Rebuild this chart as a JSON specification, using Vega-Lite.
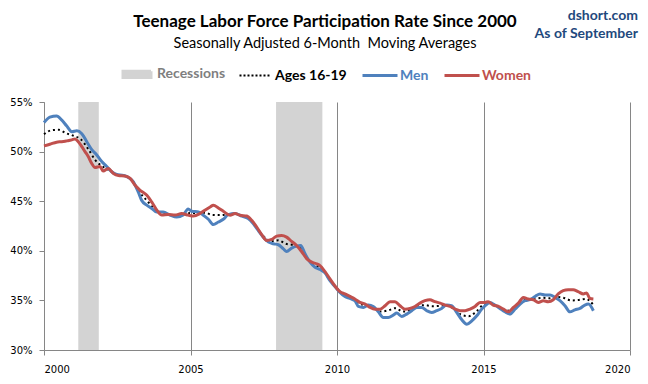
{
  "$schema": "https://vega.github.io/schema/vega-lite/v6.json",
  "width": 586,
  "height": 248,
  "autosize": {"type": "none"},
  "padding": {"left": 44, "top": 102, "right": 18, "bottom": 34},
  "background": "white",
  "title": {
    "text": "Teenage Labor Force Participation Rate Since 2000",
    "subtitle": "Seasonally Adjusted 6-Month\u00a0 Moving Averages",
    "anchor": "middle",
    "frame": "group",
    "dx": -12,
    "font": "Lato",
    "fontSize": 17,
    "fontWeight": "bold",
    "color": "#000000",
    "subtitleFont": "Lato",
    "subtitleFontSize": 14.5,
    "subtitleColor": "#000000",
    "subtitlePadding": 6,
    "offset": -43
  },
  "datasets": {
    "recessions": [
      {"start": 2001.17, "end": 2001.87},
      {"start": 2007.92, "end": 2009.5}
    ],
    "series": [
      {"year": 2000.00, "series": "Men", "rate": 52.93},
      {"year": 2000.20, "series": "Men", "rate": 53.48},
      {"year": 2000.43, "series": "Men", "rate": 53.60},
      {"year": 2000.60, "series": "Men", "rate": 53.20},
      {"year": 2000.77, "series": "Men", "rate": 52.60},
      {"year": 2000.95, "series": "Men", "rate": 52.00},
      {"year": 2001.12, "series": "Men", "rate": 52.10},
      {"year": 2001.29, "series": "Men", "rate": 51.80},
      {"year": 2001.46, "series": "Men", "rate": 51.00},
      {"year": 2001.63, "series": "Men", "rate": 50.20},
      {"year": 2001.80, "series": "Men", "rate": 49.66},
      {"year": 2001.97, "series": "Men", "rate": 49.00},
      {"year": 2002.14, "series": "Men", "rate": 48.50},
      {"year": 2002.31, "series": "Men", "rate": 47.97},
      {"year": 2002.48, "series": "Men", "rate": 47.70},
      {"year": 2002.71, "series": "Men", "rate": 47.60},
      {"year": 2002.88, "series": "Men", "rate": 47.40},
      {"year": 2003.05, "series": "Men", "rate": 46.95},
      {"year": 2003.22, "series": "Men", "rate": 45.90},
      {"year": 2003.33, "series": "Men", "rate": 45.10},
      {"year": 2003.51, "series": "Men", "rate": 44.60},
      {"year": 2003.68, "series": "Men", "rate": 44.26},
      {"year": 2003.85, "series": "Men", "rate": 43.90},
      {"year": 2004.07, "series": "Men", "rate": 43.90},
      {"year": 2004.30, "series": "Men", "rate": 43.60},
      {"year": 2004.53, "series": "Men", "rate": 43.40},
      {"year": 2004.75, "series": "Men", "rate": 43.60},
      {"year": 2004.92, "series": "Men", "rate": 44.22},
      {"year": 2005.04, "series": "Men", "rate": 43.99},
      {"year": 2005.27, "series": "Men", "rate": 43.92},
      {"year": 2005.44, "series": "Men", "rate": 43.58},
      {"year": 2005.61, "series": "Men", "rate": 43.18},
      {"year": 2005.78, "series": "Men", "rate": 42.64},
      {"year": 2005.95, "series": "Men", "rate": 42.90},
      {"year": 2006.12, "series": "Men", "rate": 43.18},
      {"year": 2006.29, "series": "Men", "rate": 43.65},
      {"year": 2006.52, "series": "Men", "rate": 43.75},
      {"year": 2006.75, "series": "Men", "rate": 43.50},
      {"year": 2006.97, "series": "Men", "rate": 43.25},
      {"year": 2007.14, "series": "Men", "rate": 42.74},
      {"year": 2007.31, "series": "Men", "rate": 42.06},
      {"year": 2007.48, "series": "Men", "rate": 41.38},
      {"year": 2007.66, "series": "Men", "rate": 40.88},
      {"year": 2007.83, "series": "Men", "rate": 40.71},
      {"year": 2008.00, "series": "Men", "rate": 40.61},
      {"year": 2008.17, "series": "Men", "rate": 40.20},
      {"year": 2008.28, "series": "Men", "rate": 39.93},
      {"year": 2008.45, "series": "Men", "rate": 40.27},
      {"year": 2008.62, "series": "Men", "rate": 40.47},
      {"year": 2008.76, "series": "Men", "rate": 40.54},
      {"year": 2008.91, "series": "Men", "rate": 39.70},
      {"year": 2009.08, "series": "Men", "rate": 38.85},
      {"year": 2009.25, "series": "Men", "rate": 38.34},
      {"year": 2009.42, "series": "Men", "rate": 38.11},
      {"year": 2009.59, "series": "Men", "rate": 37.78},
      {"year": 2009.76, "series": "Men", "rate": 36.99},
      {"year": 2009.93, "series": "Men", "rate": 36.40},
      {"year": 2010.10, "series": "Men", "rate": 35.81},
      {"year": 2010.27, "series": "Men", "rate": 35.40},
      {"year": 2010.44, "series": "Men", "rate": 35.20},
      {"year": 2010.61, "series": "Men", "rate": 34.97},
      {"year": 2010.73, "series": "Men", "rate": 34.39},
      {"year": 2010.90, "series": "Men", "rate": 34.29},
      {"year": 2011.07, "series": "Men", "rate": 34.53},
      {"year": 2011.24, "series": "Men", "rate": 34.39},
      {"year": 2011.41, "series": "Men", "rate": 33.85},
      {"year": 2011.58, "series": "Men", "rate": 33.28},
      {"year": 2011.75, "series": "Men", "rate": 33.28},
      {"year": 2011.92, "series": "Men", "rate": 33.52},
      {"year": 2012.04, "series": "Men", "rate": 33.72},
      {"year": 2012.21, "series": "Men", "rate": 33.38},
      {"year": 2012.38, "series": "Men", "rate": 33.62},
      {"year": 2012.55, "series": "Men", "rate": 33.96},
      {"year": 2012.72, "series": "Men", "rate": 34.29},
      {"year": 2012.89, "series": "Men", "rate": 34.29},
      {"year": 2013.06, "series": "Men", "rate": 33.96},
      {"year": 2013.23, "series": "Men", "rate": 33.78},
      {"year": 2013.40, "series": "Men", "rate": 33.96},
      {"year": 2013.57, "series": "Men", "rate": 34.19},
      {"year": 2013.74, "series": "Men", "rate": 34.53},
      {"year": 2013.91, "series": "Men", "rate": 34.46},
      {"year": 2014.09, "series": "Men", "rate": 33.78},
      {"year": 2014.26, "series": "Men", "rate": 33.04},
      {"year": 2014.43, "series": "Men", "rate": 32.60},
      {"year": 2014.60, "series": "Men", "rate": 32.94},
      {"year": 2014.77, "series": "Men", "rate": 33.45},
      {"year": 2014.94, "series": "Men", "rate": 34.13},
      {"year": 2015.05, "series": "Men", "rate": 34.45},
      {"year": 2015.22, "series": "Men", "rate": 34.80},
      {"year": 2015.39, "series": "Men", "rate": 34.53},
      {"year": 2015.56, "series": "Men", "rate": 34.19},
      {"year": 2015.73, "series": "Men", "rate": 33.85},
      {"year": 2015.90, "series": "Men", "rate": 33.62},
      {"year": 2016.08, "series": "Men", "rate": 34.13},
      {"year": 2016.25, "series": "Men", "rate": 34.63},
      {"year": 2016.42, "series": "Men", "rate": 34.97},
      {"year": 2016.59, "series": "Men", "rate": 35.07},
      {"year": 2016.76, "series": "Men", "rate": 35.40},
      {"year": 2016.93, "series": "Men", "rate": 35.65},
      {"year": 2017.10, "series": "Men", "rate": 35.55},
      {"year": 2017.27, "series": "Men", "rate": 35.55},
      {"year": 2017.44, "series": "Men", "rate": 35.30},
      {"year": 2017.61, "series": "Men", "rate": 34.97},
      {"year": 2017.78, "series": "Men", "rate": 34.46},
      {"year": 2017.95, "series": "Men", "rate": 33.85},
      {"year": 2018.12, "series": "Men", "rate": 34.05},
      {"year": 2018.29, "series": "Men", "rate": 34.19},
      {"year": 2018.46, "series": "Men", "rate": 34.53},
      {"year": 2018.58, "series": "Men", "rate": 34.63},
      {"year": 2018.75, "series": "Men", "rate": 33.96},

      {"year": 2000.00, "series": "Women", "rate": 50.57},
      {"year": 2000.20, "series": "Women", "rate": 50.74},
      {"year": 2000.43, "series": "Women", "rate": 50.95},
      {"year": 2000.60, "series": "Women", "rate": 51.00},
      {"year": 2000.77, "series": "Women", "rate": 51.08},
      {"year": 2000.95, "series": "Women", "rate": 51.18},
      {"year": 2001.06, "series": "Women", "rate": 51.28},
      {"year": 2001.17, "series": "Women", "rate": 51.00},
      {"year": 2001.29, "series": "Women", "rate": 50.50},
      {"year": 2001.40, "series": "Women", "rate": 50.00},
      {"year": 2001.51, "series": "Women", "rate": 49.50},
      {"year": 2001.63, "series": "Women", "rate": 48.80},
      {"year": 2001.74, "series": "Women", "rate": 48.40},
      {"year": 2001.91, "series": "Women", "rate": 48.50},
      {"year": 2002.02, "series": "Women", "rate": 48.04},
      {"year": 2002.19, "series": "Women", "rate": 48.30},
      {"year": 2002.37, "series": "Women", "rate": 47.80},
      {"year": 2002.54, "series": "Women", "rate": 47.60},
      {"year": 2002.76, "series": "Women", "rate": 47.55},
      {"year": 2002.94, "series": "Women", "rate": 47.30},
      {"year": 2003.11, "series": "Women", "rate": 46.60},
      {"year": 2003.28, "series": "Women", "rate": 46.10},
      {"year": 2003.51, "series": "Women", "rate": 45.60},
      {"year": 2003.68, "series": "Women", "rate": 44.90},
      {"year": 2003.85, "series": "Women", "rate": 44.10},
      {"year": 2004.02, "series": "Women", "rate": 43.60},
      {"year": 2004.24, "series": "Women", "rate": 43.65},
      {"year": 2004.47, "series": "Women", "rate": 43.60},
      {"year": 2004.70, "series": "Women", "rate": 43.75},
      {"year": 2004.92, "series": "Women", "rate": 43.60},
      {"year": 2005.10, "series": "Women", "rate": 43.50},
      {"year": 2005.32, "series": "Women", "rate": 43.75},
      {"year": 2005.49, "series": "Women", "rate": 44.09},
      {"year": 2005.67, "series": "Women", "rate": 44.42},
      {"year": 2005.78, "series": "Women", "rate": 44.60},
      {"year": 2005.95, "series": "Women", "rate": 44.32},
      {"year": 2006.12, "series": "Women", "rate": 43.99},
      {"year": 2006.35, "series": "Women", "rate": 43.58},
      {"year": 2006.52, "series": "Women", "rate": 43.75},
      {"year": 2006.69, "series": "Women", "rate": 43.58},
      {"year": 2006.92, "series": "Women", "rate": 43.50},
      {"year": 2007.09, "series": "Women", "rate": 43.07},
      {"year": 2007.26, "series": "Women", "rate": 42.40},
      {"year": 2007.43, "series": "Women", "rate": 41.63},
      {"year": 2007.60, "series": "Women", "rate": 41.05},
      {"year": 2007.77, "series": "Women", "rate": 41.15},
      {"year": 2007.94, "series": "Women", "rate": 41.48},
      {"year": 2008.11, "series": "Women", "rate": 41.55},
      {"year": 2008.28, "series": "Women", "rate": 41.38},
      {"year": 2008.45, "series": "Women", "rate": 40.95},
      {"year": 2008.62, "series": "Women", "rate": 40.54},
      {"year": 2008.79, "series": "Women", "rate": 39.93},
      {"year": 2008.97, "series": "Women", "rate": 39.19},
      {"year": 2009.14, "series": "Women", "rate": 38.85},
      {"year": 2009.31, "series": "Women", "rate": 38.68},
      {"year": 2009.42, "series": "Women", "rate": 38.51},
      {"year": 2009.59, "series": "Women", "rate": 37.90},
      {"year": 2009.76, "series": "Women", "rate": 37.17},
      {"year": 2009.93, "series": "Women", "rate": 36.45},
      {"year": 2010.10, "series": "Women", "rate": 35.88},
      {"year": 2010.27, "series": "Women", "rate": 35.65},
      {"year": 2010.44, "series": "Women", "rate": 35.40},
      {"year": 2010.61, "series": "Women", "rate": 35.14},
      {"year": 2010.78, "series": "Women", "rate": 34.80},
      {"year": 2010.96, "series": "Women", "rate": 34.63},
      {"year": 2011.13, "series": "Women", "rate": 34.29},
      {"year": 2011.30, "series": "Women", "rate": 34.12},
      {"year": 2011.47, "series": "Women", "rate": 34.12},
      {"year": 2011.64, "series": "Women", "rate": 34.46},
      {"year": 2011.81, "series": "Women", "rate": 34.87},
      {"year": 2011.98, "series": "Women", "rate": 34.87},
      {"year": 2012.15, "series": "Women", "rate": 34.46},
      {"year": 2012.32, "series": "Women", "rate": 34.12},
      {"year": 2012.49, "series": "Women", "rate": 34.19},
      {"year": 2012.66, "series": "Women", "rate": 34.39},
      {"year": 2012.83, "series": "Women", "rate": 34.73},
      {"year": 2013.00, "series": "Women", "rate": 34.97},
      {"year": 2013.17, "series": "Women", "rate": 35.07},
      {"year": 2013.34, "series": "Women", "rate": 34.87},
      {"year": 2013.52, "series": "Women", "rate": 34.73},
      {"year": 2013.69, "series": "Women", "rate": 34.53},
      {"year": 2013.86, "series": "Women", "rate": 34.39},
      {"year": 2014.03, "series": "Women", "rate": 34.12},
      {"year": 2014.20, "series": "Women", "rate": 33.96},
      {"year": 2014.37, "series": "Women", "rate": 33.96},
      {"year": 2014.54, "series": "Women", "rate": 34.12},
      {"year": 2014.71, "series": "Women", "rate": 34.39},
      {"year": 2014.88, "series": "Women", "rate": 34.80},
      {"year": 2015.05, "series": "Women", "rate": 34.80},
      {"year": 2015.16, "series": "Women", "rate": 34.87},
      {"year": 2015.33, "series": "Women", "rate": 34.53},
      {"year": 2015.51, "series": "Women", "rate": 34.39},
      {"year": 2015.68, "series": "Women", "rate": 34.12},
      {"year": 2015.85, "series": "Women", "rate": 33.85},
      {"year": 2016.02, "series": "Women", "rate": 34.29},
      {"year": 2016.19, "series": "Women", "rate": 34.73},
      {"year": 2016.36, "series": "Women", "rate": 35.30},
      {"year": 2016.53, "series": "Women", "rate": 35.14},
      {"year": 2016.70, "series": "Women", "rate": 35.07},
      {"year": 2016.87, "series": "Women", "rate": 34.80},
      {"year": 2017.04, "series": "Women", "rate": 34.97},
      {"year": 2017.21, "series": "Women", "rate": 34.87},
      {"year": 2017.38, "series": "Women", "rate": 35.07},
      {"year": 2017.55, "series": "Women", "rate": 35.65},
      {"year": 2017.72, "series": "Women", "rate": 35.98},
      {"year": 2017.89, "series": "Women", "rate": 36.08},
      {"year": 2018.06, "series": "Women", "rate": 36.08},
      {"year": 2018.23, "series": "Women", "rate": 35.88},
      {"year": 2018.41, "series": "Women", "rate": 35.65},
      {"year": 2018.52, "series": "Women", "rate": 35.75},
      {"year": 2018.63, "series": "Women", "rate": 35.20},
      {"year": 2018.75, "series": "Women", "rate": 35.14},

      {"year": 2000.00, "series": "Ages 16-19", "rate": 51.75},
      {"year": 2000.25, "series": "Ages 16-19", "rate": 52.15},
      {"year": 2000.50, "series": "Ages 16-19", "rate": 52.20},
      {"year": 2000.75, "series": "Ages 16-19", "rate": 51.86},
      {"year": 2001.00, "series": "Ages 16-19", "rate": 51.60},
      {"year": 2001.25, "series": "Ages 16-19", "rate": 51.25},
      {"year": 2001.50, "series": "Ages 16-19", "rate": 50.30},
      {"year": 2001.75, "series": "Ages 16-19", "rate": 49.15},
      {"year": 2002.00, "series": "Ages 16-19", "rate": 48.50},
      {"year": 2002.25, "series": "Ages 16-19", "rate": 48.10},
      {"year": 2002.50, "series": "Ages 16-19", "rate": 47.65},
      {"year": 2002.75, "series": "Ages 16-19", "rate": 47.57},
      {"year": 2003.00, "series": "Ages 16-19", "rate": 47.10},
      {"year": 2003.25, "series": "Ages 16-19", "rate": 45.95},
      {"year": 2003.50, "series": "Ages 16-19", "rate": 45.10},
      {"year": 2003.75, "series": "Ages 16-19", "rate": 44.30},
      {"year": 2004.00, "series": "Ages 16-19", "rate": 43.78},
      {"year": 2004.25, "series": "Ages 16-19", "rate": 43.66},
      {"year": 2004.50, "series": "Ages 16-19", "rate": 43.50},
      {"year": 2004.75, "series": "Ages 16-19", "rate": 43.65},
      {"year": 2005.00, "series": "Ages 16-19", "rate": 43.80},
      {"year": 2005.25, "series": "Ages 16-19", "rate": 43.80},
      {"year": 2005.50, "series": "Ages 16-19", "rate": 43.83},
      {"year": 2005.75, "series": "Ages 16-19", "rate": 43.62},
      {"year": 2006.00, "series": "Ages 16-19", "rate": 43.60},
      {"year": 2006.25, "series": "Ages 16-19", "rate": 43.67},
      {"year": 2006.50, "series": "Ages 16-19", "rate": 43.74},
      {"year": 2006.75, "series": "Ages 16-19", "rate": 43.53},
      {"year": 2007.00, "series": "Ages 16-19", "rate": 43.26},
      {"year": 2007.25, "series": "Ages 16-19", "rate": 42.30},
      {"year": 2007.50, "series": "Ages 16-19", "rate": 41.44},
      {"year": 2007.75, "series": "Ages 16-19", "rate": 40.97},
      {"year": 2008.00, "series": "Ages 16-19", "rate": 41.06},
      {"year": 2008.25, "series": "Ages 16-19", "rate": 40.71},
      {"year": 2008.50, "series": "Ages 16-19", "rate": 40.58},
      {"year": 2008.75, "series": "Ages 16-19", "rate": 40.31},
      {"year": 2009.00, "series": "Ages 16-19", "rate": 39.19},
      {"year": 2009.25, "series": "Ages 16-19", "rate": 38.55},
      {"year": 2009.50, "series": "Ages 16-19", "rate": 38.08},
      {"year": 2009.75, "series": "Ages 16-19", "rate": 37.11},
      {"year": 2010.00, "series": "Ages 16-19", "rate": 36.20},
      {"year": 2010.25, "series": "Ages 16-19", "rate": 35.56},
      {"year": 2010.50, "series": "Ages 16-19", "rate": 35.21},
      {"year": 2010.75, "series": "Ages 16-19", "rate": 34.62},
      {"year": 2011.00, "series": "Ages 16-19", "rate": 34.55},
      {"year": 2011.25, "series": "Ages 16-19", "rate": 34.27},
      {"year": 2011.50, "series": "Ages 16-19", "rate": 33.87},
      {"year": 2011.75, "series": "Ages 16-19", "rate": 34.00},
      {"year": 2012.00, "series": "Ages 16-19", "rate": 34.22},
      {"year": 2012.25, "series": "Ages 16-19", "rate": 33.87},
      {"year": 2012.50, "series": "Ages 16-19", "rate": 34.03},
      {"year": 2012.75, "series": "Ages 16-19", "rate": 34.43},
      {"year": 2013.00, "series": "Ages 16-19", "rate": 34.52},
      {"year": 2013.25, "series": "Ages 16-19", "rate": 34.42},
      {"year": 2013.50, "series": "Ages 16-19", "rate": 34.45},
      {"year": 2013.75, "series": "Ages 16-19", "rate": 34.50},
      {"year": 2014.00, "series": "Ages 16-19", "rate": 34.12},
      {"year": 2014.25, "series": "Ages 16-19", "rate": 33.53},
      {"year": 2014.50, "series": "Ages 16-19", "rate": 33.41},
      {"year": 2014.75, "series": "Ages 16-19", "rate": 33.87},
      {"year": 2015.00, "series": "Ages 16-19", "rate": 34.57},
      {"year": 2015.25, "series": "Ages 16-19", "rate": 34.72},
      {"year": 2015.50, "series": "Ages 16-19", "rate": 34.32},
      {"year": 2015.75, "series": "Ages 16-19", "rate": 33.95},
      {"year": 2016.00, "series": "Ages 16-19", "rate": 34.07},
      {"year": 2016.25, "series": "Ages 16-19", "rate": 34.77},
      {"year": 2016.50, "series": "Ages 16-19", "rate": 35.11},
      {"year": 2016.75, "series": "Ages 16-19", "rate": 35.17},
      {"year": 2017.00, "series": "Ages 16-19", "rate": 35.26},
      {"year": 2017.25, "series": "Ages 16-19", "rate": 35.22},
      {"year": 2017.50, "series": "Ages 16-19", "rate": 35.35},
      {"year": 2017.75, "series": "Ages 16-19", "rate": 35.25},
      {"year": 2018.00, "series": "Ages 16-19", "rate": 34.99},
      {"year": 2018.25, "series": "Ages 16-19", "rate": 35.04},
      {"year": 2018.50, "series": "Ages 16-19", "rate": 35.15},
      {"year": 2018.75, "series": "Ages 16-19", "rate": 34.55}
    ]
  },
  "layer": [
    {
      "data": {"name": "recessions"},
      "mark": {"type": "rect", "fill": "#A7A7A7", "opacity": 0.5},
      "encoding": {
        "x": {"field": "start", "type": "quantitative", "scale": {"domain": [2000, 2020], "nice": false, "zero": false},
              "axis": {"values": [2000, 2005, 2010, 2015, 2020], "format": "d", "title": null}},
        "x2": {"field": "end"},
        "y": {"datum": 30, "type": "quantitative", "scale": {"domain": [30, 55], "nice": false, "zero": false},
              "axis": {"values": [30, 35, 40, 45, 50, 55], "labelExpr": "datum.value + '%'", "title": null}},
        "y2": {"datum": 55}
      }
    },
    {
      "data": {"name": "series"},
      "transform": [{"filter": "datum.series === 'Ages 16-19'"}],
      "mark": {"type": "line", "strokeWidth": 2, "strokeDash": [2, 3], "interpolate": "monotone"},
      "encoding": {
        "x": {"field": "year", "type": "quantitative", "scale": {"domain": [2000, 2020], "nice": false, "zero": false}},
        "y": {"field": "rate", "type": "quantitative", "scale": {"domain": [30, 55], "nice": false, "zero": false}},
        "color": {"field": "series", "type": "nominal",
                  "scale": {"domain": ["Recessions", "Ages 16-19", "Men", "Women"], "range": ["#D3D3D3", "#000000", "#4F81BD", "#C0504D"]},
                  "legend": {"orient": "none", "legendX": 86, "legendY": -35, "direction": "horizontal", "columns": 4, "title": null}}
      }
    },
    {
      "data": {"name": "series"},
      "transform": [{"filter": "datum.series !== 'Ages 16-19'"}],
      "mark": {"type": "line", "strokeWidth": 3, "interpolate": "monotone"},
      "encoding": {
        "x": {"field": "year", "type": "quantitative", "scale": {"domain": [2000, 2020], "nice": false, "zero": false}},
        "y": {"field": "rate", "type": "quantitative", "scale": {"domain": [30, 55], "nice": false, "zero": false}},
        "color": {"field": "series", "type": "nominal",
                  "scale": {"domain": ["Recessions", "Ages 16-19", "Men", "Women"], "range": ["#D3D3D3", "#000000", "#4F81BD", "#C0504D"]},
                  "legend": {"orient": "none", "legendX": 86, "legendY": -35, "direction": "horizontal", "columns": 4, "title": null}}
      }
    },
    {
      "data": {"values": [{}]},
      "mark": {"type": "text", "text": ["dshort.com", "As of September"], "align": "right", "baseline": "middle",
               "font": "Lato", "fontWeight": "bold", "fontSize": 14, "color": "#1F497D", "lineHeight": 18},
      "encoding": {
        "x": {"datum": 2020.27, "type": "quantitative", "scale": {"domain": [2000, 2020], "nice": false, "zero": false}},
        "y": {"datum": 63.7, "type": "quantitative", "scale": {"domain": [30, 55], "nice": false, "zero": false}}
      }
    }
  ],
  "config": {
    "view": {"stroke": null},
    "axis": {
      "gridColor": "#868686", "gridOpacity": 1, "domainColor": "#868686", "tickColor": "#868686",
      "tickSize": 5, "labelFont": "DejaVu Sans", "labelFontSize": 10, "labelColor": "#000000"
    },
    "axisY": {"labelPadding": 7},
    "axisX": {"labelPadding": 9},
    "legend": {
      "labelFont": "Lato", "labelFontSize": 14, "labelFontWeight": "bold",
      "labelColor": {"expr": "datum.value === 'Men' ? '#4F81BD' : datum.value === 'Women' ? '#C0504D' : datum.value === 'Recessions' ? '#7F7F7F' : '#000000'"},
      "symbolType": {"expr": "datum.value === 'Recessions' ? 'M-0.8,-0.18H0.8V0.18H-0.8Z' : datum.value === 'Ages 16-19' ? 'M-0.886,0H0.886' : 'M-1,0H1'"},
      "symbolFillColor": {"expr": "datum.value === 'Recessions' ? '#D3D3D3' : 'transparent'"},
      "symbolSize": 1225,
      "symbolStrokeWidth": {"expr": "datum.value === 'Ages 16-19' ? 2 : 3"},
      "symbolDash": {"expr": "datum.value === 'Ages 16-19' ? [2, 2] : [1, 0]"},
      "symbolOpacity": 1,
      "labelOffset": 13,
      "columnPadding": 9,
      "padding": 0
    }
  }
}
